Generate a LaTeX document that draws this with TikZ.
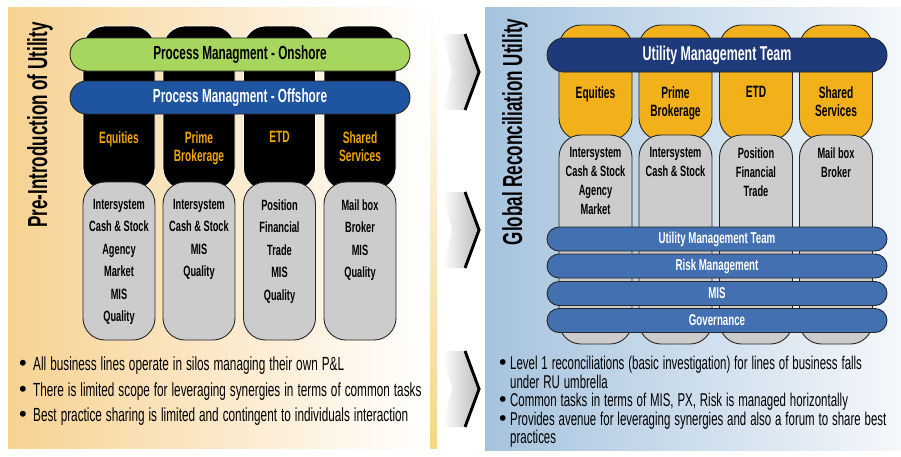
\documentclass[tikz,border=0pt]{standalone}
\usepackage{fontspec}
\setmainfont[FakeStretch=0.62]{Liberation Sans}
\newfontfamily\plainsans{Liberation Sans}
\usepackage{xcolor}
\usepackage{graphicx}
\usepackage{tikz}
\usetikzlibrary{shapes}
\usetikzlibrary{positioning}

\definecolor{sandbg}{RGB}{247,210,146}
\definecolor{stripbg}{RGB}{245,214,140}
\definecolor{skybg}{RGB}{166,195,222}
\definecolor{limebar}{RGB}{166,214,94}
\definecolor{royalbar}{RGB}{30,84,160}
\definecolor{navybar}{RGB}{31,58,122}
\definecolor{steelbar}{RGB}{66,112,176}
\definecolor{ambertop}{RGB}{242,176,26}
\definecolor{ambertext}{RGB}{240,166,0}
\definecolor{silogray}{RGB}{204,204,204}
\definecolor{chevgray}{RGB}{190,190,190}

\newcommand{\bul}[2]{\hangindent=#1\hangafter=1\noindent\makebox[#1][l]{\plainsans\scalebox{1.15}{\textbullet}}#2\par}
\newcommand{\tightspaces}{\raggedright\spaceskip=0.21em plus 0.08em minus 0.04em\relax}

\tikzset{ silo_black/.style = {rectangle, rounded corners=22pt, draw=white, line width=0.8pt, fill=black, minimum width=72pt, minimum height=164pt, inner sep=0pt} }
\tikzset{ silo_amber/.style = {rectangle, rounded corners=22pt, draw=black!85, line width=0.9pt, fill=ambertop, minimum width=73pt, minimum height=115pt, inner sep=0pt} }
\tikzset{ silo_gray/.style = {rectangle, rounded corners=22pt, draw=black!85, line width=0.9pt, fill=silogray, inner sep=0pt} }
\tikzset{ band/.style = {rectangle, draw=black!85, line width=0.9pt, minimum width=340pt, inner sep=0pt, font=\bfseries} }
\tikzset{ lob_name/.style = {anchor=north, align=center, inner sep=0pt, font=\fontsize{16.4}{18}\selectfont\bfseries} }
\tikzset{ lob_items/.style = {anchor=north, align=center, inner sep=0pt, font=\fontsize{14.9}{22.5}\selectfont\bfseries} }
\tikzset{ side_title/.style = {rotate=90, inner sep=0pt, font=\fontsize{27.5}{30}\selectfont\bfseries} }
\tikzset{ notes/.style = {anchor=north west, inner sep=0pt, font=\fontsize{18.5}{25.5}\selectfont} }

\begin{document}
\begin{tikzpicture}[x=1pt,y=-1pt]
\useasboundingbox (0,0) rectangle (901,456);

% panels
\shade[left color=sandbg, middle color=sandbg!35, right color=white] (8,7) rectangle (430,448);
\shade[top color=white, bottom color=stripbg] (430,7) rectangle (437,448);
\shade[left color=skybg, right color=skybg!12] (485,7) rectangle (901,450);

% chevrons
\foreach \c in {72,230,389} {
  \shade[left color=white, right color=chevgray] (442,\c-38) -- (463,\c-38) -- (477,\c) -- (463,\c+38) -- (442,\c+38) -- (452,\c) -- cycle;
  \draw[line width=3pt] (465,\c-38) -- (479,\c) -- (465,\c+38);
}

% before the utility
\node [style=side_title] (preT) at (40,125) {Pre-Introduction of Utility};

\node [style=silo_black] (eqB) at (119,108) {};
\node [style=silo_black] (pbB) at (199,108) {};
\node [style=silo_black] (etdB) at (279.5,108) {};
\node [style=silo_black] (ssB) at (360,108) {};

\node [style=silo_gray, minimum width=72pt, minimum height=158pt] (eqG) at (119,261) {};
\node [style=silo_gray, minimum width=72pt, minimum height=158pt] (pbG) at (199,261) {};
\node [style=silo_gray, minimum width=72pt, minimum height=158pt] (etdG) at (279.5,261) {};
\node [style=silo_gray, minimum width=72pt, minimum height=158pt] (ssG) at (360,261) {};

\node [style=band, fill=limebar, minimum height=33pt, rounded corners=16.5pt, font=\fontsize{19}{22}\selectfont\bfseries] (onshore) at (240,54.5) {Process Managment - Onshore};
\node [style=band, fill=royalbar, text=white, minimum height=33pt, rounded corners=16.5pt, font=\fontsize{19}{22}\selectfont\bfseries] (offshore) at (240,97.5) {Process Managment - Offshore};

\node [style=lob_name, text=ambertext] (eqL) at (119,131) {Equities};
\node [style=lob_name, text=ambertext] (pbL) at (199,131) {Prime\\Brokerage};
\node [style=lob_name, text=ambertext] (etdL) at (279.5,131) {ETD};
\node [style=lob_name, text=ambertext] (ssL) at (360,131) {Shared\\Services};

\node [style=lob_items] (eqI) at (119,199) {Intersystem\\Cash \& Stock\\Agency\\Market\\MIS\\Quality};
\node [style=lob_items] (pbI) at (199,199) {Intersystem\\Cash \& Stock\\MIS\\Quality};
\node [style=lob_items] (etdI) at (279.5,199) {Position\\Financial\\Trade\\MIS\\Quality};
\node [style=lob_items] (ssI) at (360,199) {Mail box\\Broker\\MIS\\Quality};

\node [style=notes, text width=410pt, font=\fontsize{19}{25.5}\selectfont] (notesL) at (19,357) {%
  \tightspaces
  \bul{14pt}{All business lines operate in silos managing their own P\&L}
  \bul{14pt}{There is limited scope for leveraging synergies in terms of common tasks}
  \bul{14pt}{Best practice sharing is limited and contingent to individuals interaction}};

% with the utility
\node [style=side_title] (gruT) at (515,132) {Global Reconciliation Utility};

\node [style=silo_amber] (eqA) at (595.5,82.5) {};
\node [style=silo_amber] (pbA) at (675.5,82.5) {};
\node [style=silo_amber] (etdA) at (756,82.5) {};
\node [style=silo_amber] (ssA) at (836,82.5) {};

\node [style=silo_gray, minimum width=73pt, minimum height=209pt] (eqR) at (595.5,239.5) {};
\node [style=silo_gray, minimum width=73pt, minimum height=209pt] (pbR) at (675.5,239.5) {};
\node [style=silo_gray, minimum width=73pt, minimum height=209pt] (etdR) at (756,239.5) {};
\node [style=silo_gray, minimum width=73pt, minimum height=209pt] (ssR) at (836,239.5) {};

\node [style=band, fill=navybar, text=white, minimum height=34pt, rounded corners=17pt, font=\fontsize{20}{22}\selectfont\bfseries] (umtTop) at (717,55) {Utility Management Team};

\node [style=lob_name] (eqN) at (595.5,86.5) {Equities};
\node [style=lob_name] (pbN) at (675.5,86.5) {Prime\\Brokerage};
\node [style=lob_name] (etdN) at (756,86.5) {ETD};
\node [style=lob_name] (ssN) at (836,86.5) {Shared\\Services};

\node [style=lob_items, font=\fontsize{14.9}{19}\selectfont\bfseries] (eqJ) at (595.5,147.5) {Intersystem\\Cash \& Stock\\Agency\\Market};
\node [style=lob_items, font=\fontsize{14.9}{19}\selectfont\bfseries] (pbJ) at (675.5,147.5) {Intersystem\\Cash \& Stock};
\node [style=lob_items, font=\fontsize{14.9}{19}\selectfont\bfseries] (etdJ) at (756,147.5) {Position\\Financial\\Trade};
\node [style=lob_items, font=\fontsize{14.9}{19}\selectfont\bfseries] (ssJ) at (836,147.5) {Mail box\\Broker};

\node [style=band, fill=steelbar, text=white, minimum height=24pt, rounded corners=12pt, font=\fontsize{15.7}{18}\selectfont\bfseries] (umt) at (717,239) {Utility Management Team};
\node [style=band, fill=steelbar, text=white, minimum height=24pt, rounded corners=12pt, font=\fontsize{15.7}{18}\selectfont\bfseries] (risk) at (717,266) {Risk Management};
\node [style=band, fill=steelbar, text=white, minimum height=24pt, rounded corners=12pt, font=\fontsize{15.7}{18}\selectfont\bfseries] (mis) at (717,293.5) {MIS};
\node [style=band, fill=steelbar, text=white, minimum height=24pt, rounded corners=12pt, font=\fontsize{15.7}{18}\selectfont\bfseries] (gov) at (717,320.5) {Governance};

\node [style=notes, text width=400pt, font=\fontsize{18.5}{18.5}\selectfont] (notesR) at (499,356) {%
  \tightspaces
  \bul{11pt}{Level 1 reconciliations (basic investigation) for lines of business falls\newline under RU umbrella}
  \bul{11pt}{Common tasks in terms of MIS, PX, Risk is managed horizontally}
  \bul{11pt}{Provides avenue for leveraging synergies and also a forum to share best\newline practices}};
\end{tikzpicture}
\end{document}
